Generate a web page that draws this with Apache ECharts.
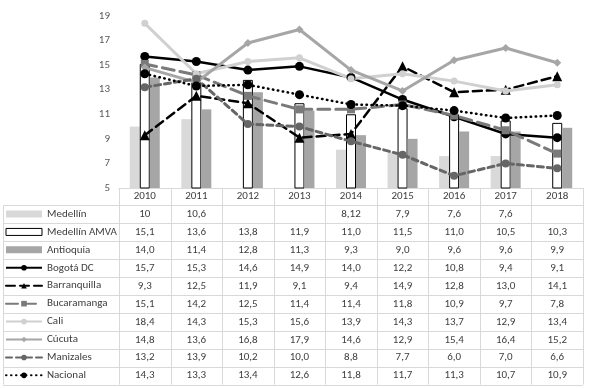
<!DOCTYPE html>
<html>
<head>
<meta charset="utf-8">
<script src="https://cdn.jsdelivr.net/npm/echarts@6/dist/echarts.min.js"></script>
<style>
  html, body { margin: 0; padding: 0; background: #fff; }
  #chart { width: 589px; height: 388px; }
</style>
</head>
<body>
<div id="chart"></div>
<script>
const years = ['2010', '2011', '2012', '2013', '2014', '2015', '2016', '2017', '2018']
const yTicks = [5, 7, 9, 11, 13, 15, 17, 19]

const medellin = [10, 10.6, null, null, 8.12, 7.9, 7.6, 7.6, null]
const medellinAmva = [15.1, 13.6, 13.8, 11.9, 11.0, 11.5, 11.0, 10.5, 10.3]
const antioquia = [14.0, 11.4, 12.8, 11.3, 9.3, 9.0, 9.6, 9.6, 9.9]
const bogota = [15.7, 15.3, 14.6, 14.9, 14.0, 12.2, 10.8, 9.4, 9.1]
const barranquilla = [9.3, 12.5, 11.9, 9.1, 9.4, 14.9, 12.8, 13.0, 14.1]
const bucaramanga = [15.1, 14.2, 12.5, 11.4, 11.4, 11.8, 10.9, 9.7, 7.8]
const cali = [18.4, 14.3, 15.3, 15.6, 13.9, 14.3, 13.7, 12.9, 13.4]
const cucuta = [14.8, 13.6, 16.8, 17.9, 14.6, 12.9, 15.4, 16.4, 15.2]
const manizales = [13.2, 13.9, 10.2, 10.0, 8.8, 7.7, 6.0, 7.0, 6.6]
const nacional = [14.3, 13.3, 13.4, 12.6, 11.8, 11.7, 11.3, 10.7, 10.9]

const FONT = 'Carlito, Lato, sans-serif'
const TEXT = '#404040'
const GRID_LINE = '#d9d9d9'
// table layout (rows under the plot)
const TABLE_LEFT = 3
const ROW_TOP = 205.3
const ROW_H = 17.93

function bar(name, data, itemStyle) {
  return { name, type: 'bar', data, barWidth: 10, barGap: '0%', itemStyle }
}

function line(name, data, color, width, dash, symbol, symbolSize) {
  return {
    name,
    type: 'line',
    data,
    symbol,
    symbolSize,
    lineStyle: { color, width, type: dash, cap: dash === 'solid' ? 'butt' : 'round' },
    itemStyle: { color },
  }
}

const series = [
  bar('Medellín', medellin, { color: '#d9d9d9' }),
  bar('Medellín AMVA', medellinAmva, { color: '#ffffff', borderColor: '#000000', borderWidth: 1 }),
  bar('Antioquia', antioquia, { color: '#a6a6a6' }),
  line('Bogotá DC', bogota, '#000000', 2.5, 'solid', 'circle', 9),
  line('Barranquilla', barranquilla, '#000000', 2.5, [9, 5], 'triangle', 10),
  line('Bucaramanga', bucaramanga, '#7a7a7a', 3, [12, 6], 'rect', 8),
  line('Cali', cali, '#d0d0d0', 3, 'solid', 'circle', 7),
  line('Cúcuta', cucuta, '#a6a6a6', 3, 'solid', 'diamond', 8),
  line('Manizales', manizales, '#666666', 3, [6, 4], 'circle', 8),
  line('Nacional', nacional, '#000000', 2.5, [0.5, 4.5], 'circle', 9),
]

function fmt(v, raw) {
  if (v == null) return ''
  return (raw ? String(v) : v.toFixed(1)).replace('.', ',')
}

const chart = echarts.init(document.getElementById('chart'))
chart.setOption({
  animation: false,
  textStyle: { fontFamily: FONT },
  grid: { left: 119, right: 6, top: 16, bottom: 200, outerBoundsMode: 'none' },
  legend: {
    orient: 'vertical',
    left: 5,
    top: 207,
    padding: 0,
    itemWidth: 36,
    itemHeight: 7,
    itemGap: 3.93,
    textStyle: { color: TEXT, fontSize: 11, fontFamily: FONT, lineHeight: 14 },
    data: series.map((s) =>
      s.type === 'bar'
        ? { name: s.name, icon: 'rect', itemStyle: { borderWidth: s.itemStyle.borderWidth ? 1 : 0 } }
        : { name: s.name }
    ),
  },
  xAxis: {
    type: 'category',
    data: years,
    axisTick: { show: false },
    axisLine: { lineStyle: { color: GRID_LINE } },
    axisLabel: { color: TEXT, fontSize: 11, margin: 3 },
  },
  yAxis: {
    type: 'value',
    min: yTicks[0],
    max: yTicks[yTicks.length - 1],
    interval: 2,
    splitLine: { show: false },
    axisLine: { show: false },
    axisTick: { show: false },
    axisLabel: { color: '#595959', fontSize: 11, margin: 9 },
  },
  series,
})

// data table drawn under the plot, columns follow the category axis
const cx = years.map((y, i) => chart.convertToPixel({ xAxisIndex: 0 }, i))
const step = cx[1] - cx[0]
const edges = cx.map((x) => x - step / 2).concat(cx[cx.length - 1] + step / 2)
const axisY = chart.convertToPixel({ yAxisIndex: 0 }, yTicks[0])
const tableBottom = ROW_TOP + series.length * ROW_H
const right = edges[edges.length - 1]

const graphic = []
const seg = (x1, y1, x2, y2) =>
  graphic.push({
    type: 'line',
    silent: true,
    shape: { x1, y1, x2, y2 },
    style: { stroke: GRID_LINE, lineWidth: 1 },
  })

for (let r = 0; r <= series.length; r++) {
  const y = Math.round(ROW_TOP + r * ROW_H) + 0.5
  seg(TABLE_LEFT, y, right, y)
}
edges.forEach((x) => seg(Math.round(x) + 0.5, axisY, Math.round(x) + 0.5, tableBottom))
seg(TABLE_LEFT + 0.5, ROW_TOP, TABLE_LEFT + 0.5, tableBottom)

series.forEach((s, r) => {
  const y = ROW_TOP + (r + 0.5) * ROW_H
  s.data.forEach((v, i) => {
    graphic.push({
      type: 'text',
      silent: true,
      x: cx[i],
      y,
      style: {
        text: fmt(v, s.name === 'Medellín'),
        fill: TEXT,
        font: '11px ' + FONT,
        textAlign: 'center',
        textVerticalAlign: 'middle',
      },
    })
  })
})

chart.setOption({ graphic })
</script>
</body>
</html>
